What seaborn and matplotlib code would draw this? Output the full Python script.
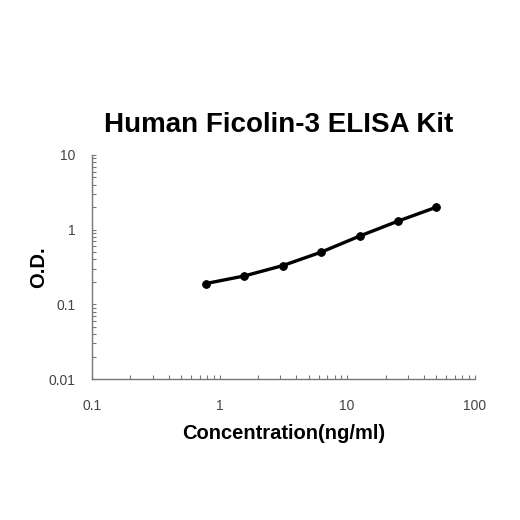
import matplotlib
matplotlib.use("Agg")
import matplotlib.pyplot as plt
import matplotlib.ticker as mticker
import seaborn as sns
import pandas as pd

# standard curve values
concentration = [0.78, 1.56, 3.12, 6.25, 12.5, 25, 50]
od = [0.19, 0.24, 0.33, 0.50, 0.82, 1.30, 2.00]

df = pd.DataFrame({"conc": concentration, "od": od})

sns.set_style("white")
plt.rcParams['font.family'] = ['Liberation Sans', 'DejaVu Sans']

fig = plt.figure(figsize=(5.2, 5.2), dpi=100)
ax = fig.add_axes([0.177, 0.271, 0.736, 0.431])

sns.lineplot(data=df, x="conc", y="od", ax=ax, color="black", linewidth=2.4,
             marker="o", markersize=5.5, markeredgecolor="black")

ax.set_xscale("log")
ax.set_yscale("log")
ax.set_xlim(0.1, 100)
ax.set_ylim(0.01, 10)

ax.xaxis.set_major_locator(mticker.FixedLocator([0.1, 1, 10, 100]))
ax.xaxis.set_major_formatter(mticker.FixedFormatter(["0.1", "1", "10", "100"]))
ax.yaxis.set_major_locator(mticker.FixedLocator([0.01, 0.1, 1, 10]))
ax.yaxis.set_major_formatter(mticker.FixedFormatter(["0.01", "0.1", "1", "10"]))
ax.xaxis.set_minor_locator(mticker.LogLocator(base=10, subs=range(2, 10)))
ax.yaxis.set_minor_locator(mticker.LogLocator(base=10, subs=range(2, 10)))
ax.xaxis.set_minor_formatter(mticker.NullFormatter())
ax.yaxis.set_minor_formatter(mticker.NullFormatter())

ax.tick_params(which="both", bottom=True, left=True, direction="in", length=3,
               width=0.8, color="#777777", labelsize=10, labelcolor="#444444")
ax.tick_params(axis="x", which="major", pad=14)
ax.tick_params(axis="y", which="major", pad=12)

for side in ["top", "right"]:
    ax.spines[side].set_visible(False)
for side in ["left", "bottom"]:
    ax.spines[side].set_color("#777777")
    ax.spines[side].set_linewidth(1)

ax.set_xlabel("Concentration(ng/ml)", fontsize=14.5, fontweight="bold", labelpad=8,
              color="black")
ax.set_ylabel("O.D.", fontsize=14.5, fontweight="bold", labelpad=0, color="black")
fig.text(0.535, 0.76, "Human Ficolin-3 ELISA Kit", fontsize=20, fontweight="bold",
         ha="center", va="center", color="black")

plt.savefig("out.png", dpi=100)
